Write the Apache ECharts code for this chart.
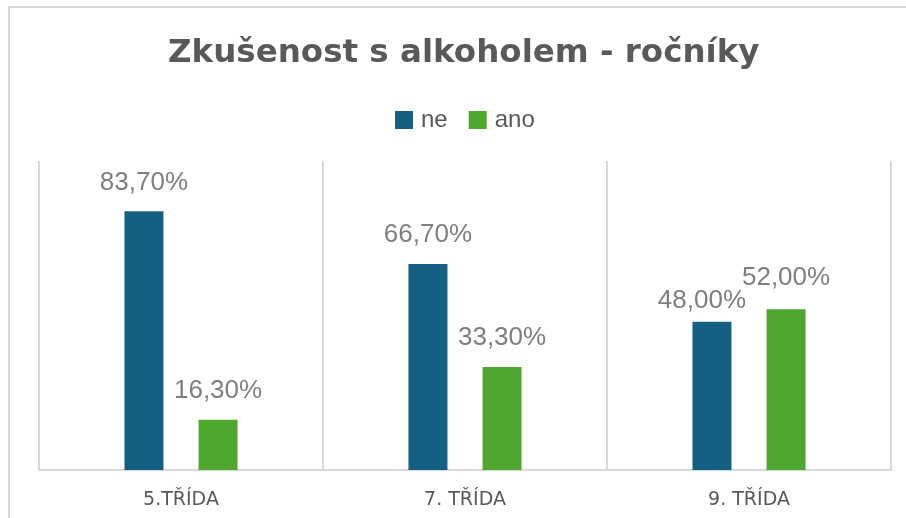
<!DOCTYPE html>
<html>
<head>
<meta charset="utf-8">
<script src="https://cdn.jsdelivr.net/npm/echarts@6/dist/echarts.min.js"></script>
<style>
  html, body { margin: 0; padding: 0; background: #fff; }
  #chart { width: 906px; height: 518px; }
</style>
</head>
<body>
<div id="chart"></div>
<script>
// data
const categories = ['5.TŘÍDA', '7. TŘÍDA', '9. TŘÍDA']
const seriesNames = ['ne', 'ano']
const neValues = [83.7, 66.7, 48.0]
const anoValues = [16.3, 33.3, 52.0]

const fmt = v => v.toFixed(2).replace('.', ',') + '%'

const chart = echarts.init(document.getElementById('chart'))

const labelStyle = {
  show: true,
  position: 'top',
  distance: 16,
  color: '#7F7F7F',
  fontSize: 26,
  fontFamily: 'Liberation Sans, Arial, sans-serif',
  formatter: p => fmt(p.value)
}

// ne-label in last group is nudged left in the original so it doesn't hit its neighbour
const neData = neValues.map((v, i) => i === 2 ? { value: v, label: { offset: [-10, 8] } } : v)
const anoData = anoValues.map((v, i) => i === 2 ? { value: v, label: { offset: [0, -2] } } : v)

const option = {
  animation: false,
  title: {
    text: 'Zkušenost s alkoholem - ročníky',
    left: 163,
    top: 32,
    textStyle: {
      color: '#595959',
      fontSize: 32.5,
      fontWeight: 'bold',
      fontFamily: 'DejaVu Sans, sans-serif'
    }
  },
  legend: {
    data: seriesNames,
    left: 390,
    top: 103,
    itemWidth: 18,
    itemHeight: 18,
    itemGap: 21,
    icon: 'rect',
    textStyle: {
      color: '#595959',
      fontSize: 24,
      fontFamily: 'Liberation Sans, Arial, sans-serif',
      padding: [0, 0, 0, 3]
    }
  },
  graphic: [{
    type: 'rect',
    silent: true,
    shape: { x: 9, y: 7, width: 1000, height: 600 },
    style: { fill: 'none', stroke: '#D9D9D9', lineWidth: 2 }
  }],
  grid: { left: 39, right: 15, top: 161, bottom: 48 },
  xAxis: {
    type: 'category',
    data: categories,
    axisTick: { show: false },
    axisLine: { lineStyle: { color: '#D9D9D9', width: 2 } },
    splitLine: { show: true, lineStyle: { color: '#D9D9D9', width: 2 } },
    axisLabel: {
      color: '#595959',
      fontSize: 19,
      margin: 21,
      fontFamily: 'DejaVu Sans, sans-serif'
    }
  },
  yAxis: {
    type: 'value',
    min: 0,
    max: 100,
    show: false,
    splitLine: { show: false }
  },
  series: [
    {
      name: 'ne',
      type: 'bar',
      data: neData,
      barWidth: 39,
      barGap: '90%',
      itemStyle: { color: '#156082' },
      label: labelStyle
    },
    {
      name: 'ano',
      type: 'bar',
      data: anoData,
      barWidth: 39,
      itemStyle: { color: '#4EA72E' },
      label: labelStyle
    }
  ]
}

chart.setOption(option)
</script>
</body>
</html>
